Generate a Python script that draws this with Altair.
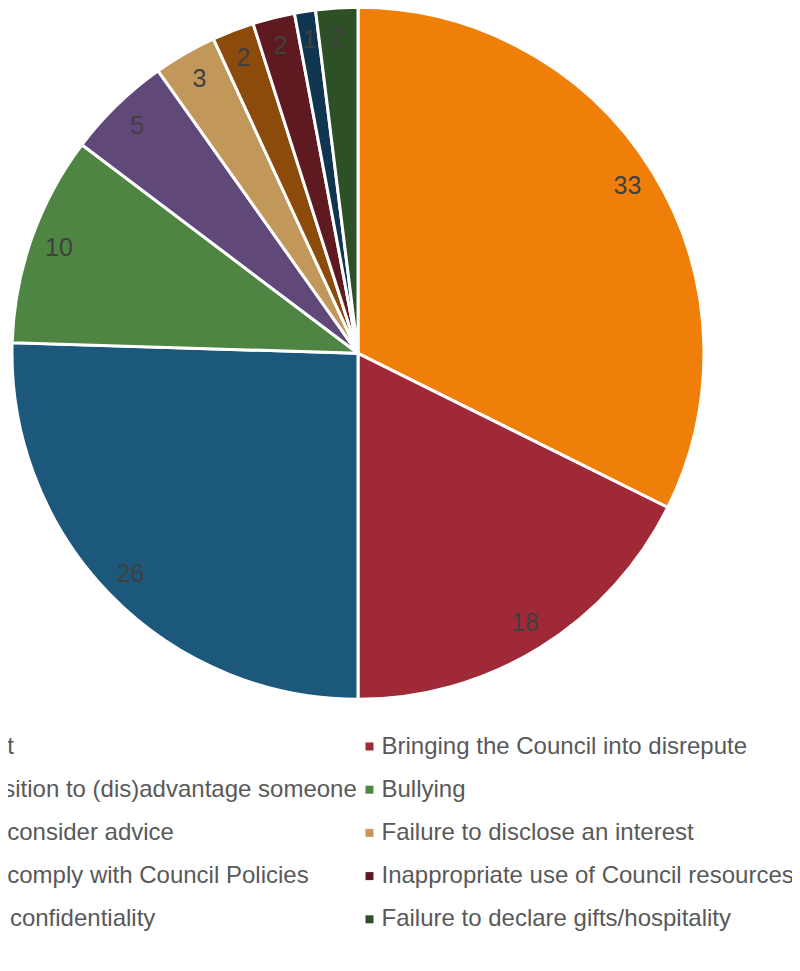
import altair as alt
import pandas as pd

categories = [
    "Disrespect",
    "Bringing the Council into disrepute",
    "Use of position to (dis)advantage someone",
    "Bullying",
    "Failure to consider advice",
    "Failure to disclose an interest",
    "Failure to comply with Council Policies",
    "Inappropriate use of Council resources",
    "Breach of confidentiality",
    "Failure to declare gifts/hospitality",
]
values = [33, 18, 26, 10, 5, 3, 2, 2, 1, 2]
colors = ["#F07F09", "#9F2936", "#1B587C", "#4E8542", "#604878",
          "#C19859", "#8C4A0B", "#5E1921", "#103550", "#2D5027"]

df = pd.DataFrame({"category": categories, "value": values,
                   "idx": list(range(len(categories)))})

CX, CY, R = 350, 345.3, 346

base = alt.Chart(df).encode(
    theta=alt.Theta("value:Q", stack=True),
    order=alt.Order("idx:Q", sort="ascending"),
    x=alt.value(CX),
    y=alt.value(CY),
)

pie = base.mark_arc(radius=R, stroke="white", strokeWidth=3).encode(
    color=alt.Color(
        "category:N",
        scale=alt.Scale(domain=categories, range=colors),
        sort=categories,
        legend=alt.Legend(
            orient="none",
            direction="horizontal",
            legendX=-131.5,
            legendY=726.5,
            columns=2,
            title=None,
            symbolType="square",
            symbolSize=64,
            symbolStrokeWidth=0,
            labelFontSize=24,
            labelFont="Liberation Sans",
            labelColor="#595959",
            labelOffset=0,
            labelLimit=1000,
            columnPadding=0,
            rowPadding=19.2,
        ),
    )
)

labels = base.mark_text(radius=317, fontSize=25, font="Liberation Sans",
                        color="#404040").encode(text="value:Q")

chart = (pie + labels).properties(
    width=784, height=955,
    autosize=alt.AutoSizeParams(type="none"),
    padding=0,
).configure_view(stroke=None)

chart.save("out.html", embed_options={"renderer": "svg", "actions": False})
